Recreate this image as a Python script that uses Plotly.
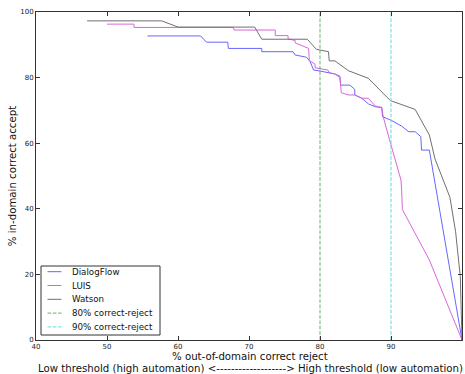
import plotly.graph_objects as go

# ---- data ----
watson_x = [47.2, 57.7, 60.0, 70.8, 71.8, 78.2, 79.5, 81.2, 81.3, 82.1, 84.0, 86.8, 89.9, 93.4, 95.4, 96.2, 98.3, 99.1, 99.76, 100]
watson_y = [97.3, 97.3, 95.4, 95.4, 91.7, 91.7, 88.6, 87.9, 85.1, 85.1, 82.1, 79.8, 73.0, 70.3, 62.5, 55.2, 43.5, 33.0, 19.3, 0]

dialog_x = [55.7, 63.2, 64.0, 67.0, 67.1, 71.8, 71.8, 76.2, 76.5, 78.1, 78.6, 79.1, 80.0, 82.1, 82.8, 82.9, 84.2, 84.9, 84.9,
            85.9, 86.8, 87.8, 88.7, 88.8, 90.1, 91.5, 92.5, 93.4, 94.2, 94.3, 95.4, 100]
dialog_y = [92.7, 92.7, 90.8, 90.8, 88.9, 88.9, 87.9, 87.9, 86.9, 86.2, 84.9, 82.3, 82.0, 81.1, 80.1, 77.7, 77.7, 76.4, 74.7,
            73.7, 72.0, 71.1, 70.9, 68.1, 66.9, 65.2, 63.5, 63.5, 62.0, 57.9, 57.9, 0]

luis_x = [50.0, 53.8, 53.8, 67.8, 67.9, 73.7, 73.7, 75.5, 75.5, 76.5, 76.5, 78.4, 78.5, 79.0, 79.3, 79.3, 81.1, 81.3, 82.1,
          82.8, 83.0, 84.0, 84.9, 85.9, 86.8, 87.8, 88.7, 88.9, 89.4, 89.8, 90.6, 91.4, 91.5, 91.6, 95.4, 100]
luis_y = [96.3, 96.3, 95.3, 95.3, 94.5, 94.5, 92.8, 92.8, 91.8, 91.3, 90.6, 88.9, 85.2, 84.5, 84.1, 83.0, 82.3, 81.5, 81.1,
          80.5, 75.4, 74.7, 74.7, 73.7, 73.7, 71.3, 70.9, 68.1, 64.5, 61.0, 54.9, 48.8, 45.7, 39.8, 24.4, 0]

thresholds = [80, 90]
threshold_names = ["80% correct-reject", "90% correct-reject"]

x_ticks = [40, 50, 60, 70, 80, 90, 100]
y_ticks = [0, 20, 40, 60, 80, 100]

x_title_lines = ["% out-of-domain correct reject",
                 "Low threshold (high automation) <-------------------> High threshold (low automation)"]
y_title = "% in-domain correct accept"

series = [
    ("DialogFlow", dialog_x, dialog_y, "#6666ff"),
    ("LUIS", luis_x, luis_y, "#d966d9"),
    ("Watson", watson_x, watson_y, "#707070"),
]
thr_colors = ["#66b366", "#66d9d9"]
DASH = "3.7px,1.6px"

W, H = 465, 374
L, R, T, B = 36, 3, 12, 34
PW, PH = W - L - R, H - T - B


def px(xp):
    return (xp - L) / PW


def py(yp):
    return (H - B - yp) / PH


fig = go.Figure()
for nm, xs, ys, c in series:
    fig.add_trace(go.Scatter(x=xs, y=ys, mode="lines", name=nm,
                             line=dict(color=c, width=1)))
for t, nm, c in zip(thresholds, threshold_names, thr_colors):
    fig.add_trace(go.Scatter(x=[t, t], y=[0, 100], mode="lines", name=nm,
                             line=dict(color=c, width=1, dash=DASH)))

# manual legend (matplotlib-like compact box)
shapes = [dict(type="rect", xref="paper", yref="paper", x0=px(41), x1=px(160), y0=py(335), y1=py(266),
               line=dict(color="#333333", width=1), fillcolor="white", layer="above")]
annotations = []
legend_items = [(s[0], s[3], "solid") for s in series] + \
               [(nm, c, DASH) for nm, c in zip(threshold_names, thr_colors)]
row_y = [271.7, 285.5, 299.3, 313.1, 326.9]
for (nm, c, d), yy in zip(legend_items, row_y):
    shapes.append(dict(type="line", xref="paper", yref="paper", x0=px(47.5), x1=px(61.5), y0=py(yy), y1=py(yy),
                       line=dict(color=c, width=1, dash=d), layer="above"))
    annotations.append(dict(xref="paper", yref="paper", x=px(70), y=py(yy), text=nm, showarrow=False,
                            xanchor="left", yanchor="middle", font=dict(size=8.7, color="#111111")))

# x-axis title (two lines, placed like the reference)
for txt, yy in zip(x_title_lines, [356.5, 368.5]):
    annotations.append(dict(xref="paper", yref="paper", x=px(250), y=py(yy), text=txt, showarrow=False,
                            xanchor="center", yanchor="middle", font=dict(size=10.2, color="#111111")))

axis_common = dict(showgrid=False, zeroline=False, showline=True, linecolor="#333333", linewidth=1,
                   mirror="ticks", ticks="inside", ticklen=4, tickcolor="#333333", automargin=False,
                   tickfont=dict(size=7, color="#222222", family="DejaVu Sans"))

fig.update_layout(
    width=W, height=H,
    margin=dict(l=L, r=R, t=T, b=B),
    paper_bgcolor="white", plot_bgcolor="white",
    font=dict(family="DejaVu Sans", color="#111111"),
    xaxis=dict(range=[40, 100], tickvals=x_ticks, ticktext=[str(v) for v in x_ticks], **axis_common),
    yaxis=dict(range=[0, 100], tickvals=y_ticks, ticktext=[str(v) for v in y_ticks],
               title=dict(text=y_title, font=dict(size=10.2), standoff=1),
               **axis_common),
    shapes=shapes,
    annotations=annotations,
    showlegend=False,
)

fig.write_html("out.html", config={"displayModeBar": False},
               post_script="document.body.style.margin='0';document.body.style.overflow='hidden';")
